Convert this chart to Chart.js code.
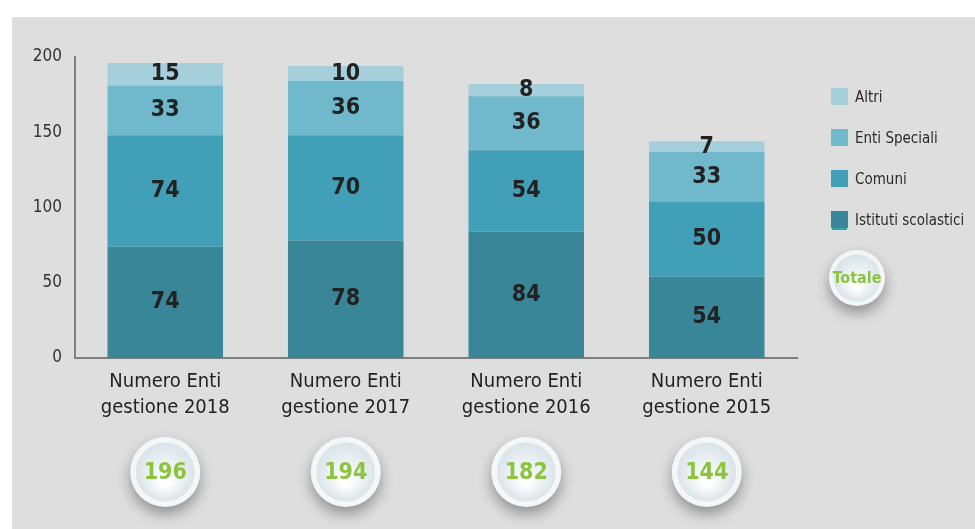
<!DOCTYPE html>
<html>
<head>
<meta charset="utf-8">
<script src="https://cdn.jsdelivr.net/npm/chart.js@4.4.0/dist/chart.umd.min.js"></script>
<style>
  body { margin: 0; width: 975px; height: 529px; overflow: hidden; position: relative; background: #fff;
         font-family: 'Liberation Sans Narrow', 'DejaVu Sans Condensed', sans-serif; }
  #panel { position: absolute; left: 12px; top: 17px; right: 0; bottom: 0; background: #dedede; }
  #wrap { position: absolute; left: 0; top: 0; width: 975px; height: 529px; }
  #legend { position: absolute; left: 831px; top: 76px; }
  .item { display: flex; align-items: center; height: 41px; font-size: 15px; color: #2a2a2a; position: relative; }
  .box { width: 17px; height: 17px; margin-right: 7px; }
  .item:last-child .box { box-shadow: 0 3px 0 -1px #36a3a8; }
</style>
</head>
<body>
<div id="panel"></div>
<div id="wrap"><canvas id="chart" width="975" height="529"></canvas></div>
<div id="legend"></div>
<script>
// categories and values
const categories = [
  ['Numero Enti', 'gestione 2018'],
  ['Numero Enti', 'gestione 2017'],
  ['Numero Enti', 'gestione 2016'],
  ['Numero Enti', 'gestione 2015']
];
const istituti = [74, 78, 84, 54];
const comuni = [74, 70, 54, 50];
const entiSpeciali = [33, 36, 36, 33];
const altri = [15, 10, 8, 7];
const yTicks = [0, 50, 100, 150, 200];

const FONT = "'Liberation Sans Narrow', 'DejaVu Sans Condensed', sans-serif";

const datasets = [
  { label: 'Istituti scolastici', data: istituti, backgroundColor: '#3a8699' },
  { label: 'Comuni', data: comuni, backgroundColor: '#41a0b7' },
  { label: 'Enti Speciali', data: entiSpeciali, backgroundColor: '#70b8cb' },
  { label: 'Altri', data: altri, backgroundColor: '#a6cfdc' }
];

const totals = categories.map((c, i) => datasets.reduce((s, d) => s + d.data[i], 0));

// Legend, top to bottom in reverse stacking order
const $legend = document.getElementById('legend');
datasets.slice().reverse().forEach(d => {
  $legend.insertAdjacentHTML('beforeend',
    `<div class="item"><span class="box" style="background:${d.backgroundColor}"></span>${d.label}</div>`);
});

function drawBubble(ctx, x, y, r, text, fontSize) {
  ctx.save();
  ctx.shadowColor = 'rgba(0,0,0,0.35)';
  ctx.shadowBlur = 14;
  ctx.shadowOffsetY = 7;
  ctx.beginPath();
  ctx.arc(x, y, r, 0, Math.PI * 2);
  ctx.fillStyle = '#f4f7f8';
  ctx.fill();
  ctx.restore();
  ctx.save();
  const g = ctx.createRadialGradient(x, y + r * 0.3, r * 0.1, x, y, r * 0.85);
  g.addColorStop(0, '#ffffff');
  g.addColorStop(1, '#d9e3e9');
  ctx.beginPath();
  ctx.arc(x, y, r * 0.84, 0, Math.PI * 2);
  ctx.fillStyle = g;
  ctx.fill();
  ctx.fillStyle = '#8cc43f';
  ctx.font = `bold ${fontSize}px ${FONT}`;
  ctx.textAlign = 'center';
  ctx.textBaseline = 'middle';
  ctx.fillText(text, x, y + 1);
  ctx.restore();
}

const extras = {
  id: 'extras',
  afterDatasetsDraw(chart) {
    const ctx = chart.ctx;
    // values inside each segment
    ctx.save();
    ctx.font = `bold 23px ${FONT}`;
    ctx.fillStyle = '#222';
    ctx.textAlign = 'center';
    ctx.textBaseline = 'middle';
    chart.data.datasets.forEach((d, di) => {
      chart.getDatasetMeta(di).data.forEach((bar, i) => {
        const mid = (bar.y + bar.base) / 2;
        ctx.fillText(String(d.data[i]), bar.x, mid);
      });
    });
    ctx.restore();
  },
  afterDraw(chart) {
    const ctx = chart.ctx;
    const xs = chart.scales.x;
    totals.forEach((t, i) => {
      drawBubble(ctx, xs.getPixelForValue(i), 472, 35, String(t), 23);
    });
    drawBubble(ctx, 857, 278, 28, 'Totale', 16);
  }
};

new Chart(document.getElementById('chart'), {
  type: 'bar',
  data: { labels: categories, datasets: datasets },
  options: {
    responsive: false,
    animation: false,
    layout: { padding: { left: 12, top: 57, right: 178, bottom: 0 } },
    plugins: { legend: { display: false }, tooltip: { enabled: false } },
    datasets: { bar: { categoryPercentage: 1, barPercentage: 0.64 } },
    scales: {
      x: {
        stacked: true,
        grid: { display: false, drawTicks: false },
        border: { color: '#808080', width: 2 },
        ticks: { color: '#222', font: { family: FONT, size: 20, lineHeight: 1.3 }, padding: 11, maxRotation: 0 },
        afterFit(scale) { scale.height = 171; }
      },
      y: {
        stacked: true,
        min: 0,
        max: 200,
        afterBuildTicks(scale) { scale.ticks = yTicks.map(v => ({ value: v })); },
        grid: { display: false, drawTicks: false },
        border: { color: '#808080', width: 2 },
        ticks: { color: '#333', font: { family: FONT, size: 17 }, padding: 13 },
        afterFit(scale) { scale.width = 63; }
      }
    }
  },
  plugins: [extras]
});
</script>
</body>
</html>
